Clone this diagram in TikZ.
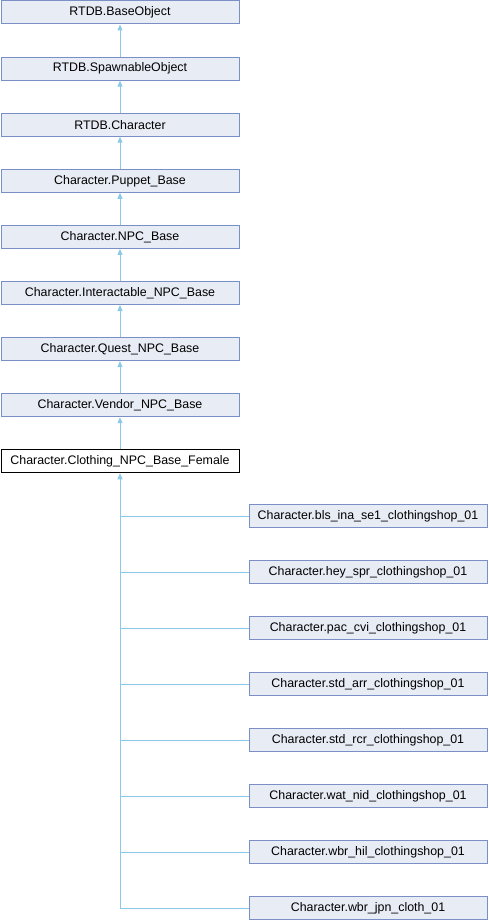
\documentclass[tikz,border=0pt]{standalone}
\usepackage{fontspec}
\setmainfont{Liberation Sans}
\usetikzlibrary{arrows.meta}
\definecolor{boxfill}{HTML}{E8ECF5}
\definecolor{boxdraw}{HTML}{7B8FC7}
\definecolor{edge}{HTML}{8CC8EA}
\begin{document}
\begin{tikzpicture}[x=1pt,y=-1pt,
  cls/.style={draw=boxdraw,fill=boxfill,line width=1pt,minimum width=238pt,minimum height=23pt,inner sep=0pt,font=\fontsize{12.4}{14}\selectfont,anchor=north west},
  cur/.style={cls,draw=black,fill=white},
  inh/.style={draw=edge,line width=1pt,-{Triangle[length=6pt,width=5pt]}}]
\useasboundingbox (0,0) rectangle (488,920);
\node[cls] (n0) at (0.5,0.5) {RTDB.BaseObject};
\node[cls] (n1) at (0.5,56.6) {RTDB.SpawnableObject};
\node[cls] (n2) at (0.5,112.7) {RTDB.Character};
\node[cls] (n3) at (0.5,168.8) {Character.Puppet\_Base};
\node[cls] (n4) at (0.5,224.9) {Character.NPC\_Base};
\node[cls] (n5) at (0.5,281.0) {Character.Interactable\_NPC\_Base};
\node[cls] (n6) at (0.5,337.1) {Character.Quest\_NPC\_Base};
\node[cls] (n7) at (0.5,393.2) {Character.Vendor\_NPC\_Base};
\node[cur] (n8) at (0.5,449.3) {Character.Clothing\_NPC\_Base\_Female};
\foreach \a/\b in {n0/n1,n1/n2,n2/n3,n3/n4,n4/n5,n5/n6,n6/n7,n7/n8}
  \draw[inh] (\b.north) -- (\a.south);
\foreach \i/\t in {0/bls\_ina\_se1\_clothingshop\_01,1/hey\_spr\_clothingshop\_01,2/pac\_cvi\_clothingshop\_01,3/std\_arr\_clothingshop\_01,4/std\_rcr\_clothingshop\_01,5/wat\_nid\_clothingshop\_01,6/wbr\_hil\_clothingshop\_01,7/wbr\_jpn\_cloth\_01}{
  \node[cls] (c\i) at (248.5,504.3+56*\i) {Character.\t};
}
\coordinate (trunkend) at (n8.south |- c7.west);
\draw[draw=edge,line width=1pt] (c7.west) -- (trunkend) -- ([yshift=-6pt]n8.south);
\draw[inh] ([yshift=-8pt]n8.south) -- (n8.south);
\foreach \i in {0,...,6}
  \draw[draw=edge,line width=1pt] (c\i.west) -- (n8.south |- c\i.west);
\end{tikzpicture}
\end{document}
